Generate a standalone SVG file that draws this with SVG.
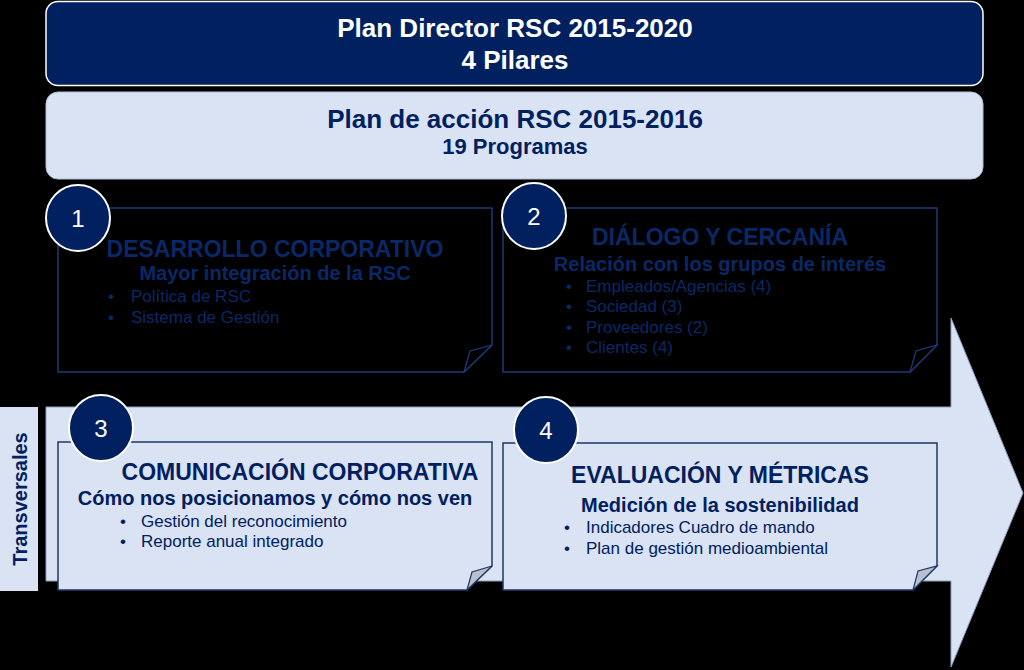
<svg xmlns="http://www.w3.org/2000/svg" width="1024" height="670" viewBox="0 0 1024 670">
<style>
text{font-family:"Liberation Sans",Arial,sans-serif}
.b{font-weight:bold}
.dk{fill:#0b2866}
.nv{fill:#002060}
.wh{fill:#ffffff}
.c{text-anchor:middle}
.t1{font-size:26px}
.st{font-size:23px;font-weight:bold}
.sub{font-size:20px;font-weight:bold}
.bl{font-size:17px}
.num{font-size:24px;fill:#ffffff;text-anchor:middle}
.boxd{fill:#000;stroke:#1f3a7a;stroke-width:1.5}
.boxl{fill:#dae3f3;stroke:#1f3864;stroke-width:1.5}
.flapd{fill:#000;stroke:#1f3a7a;stroke-width:1.2}
.flapl{fill:#b8c0cf;stroke:#1f3864;stroke-width:1.2}
.circ{fill:#002060;stroke:#ffffff;stroke-width:2}
</style>
<rect width="1024" height="670" fill="#000"/>
<g id="arrow">
<path d="M46,407 L951,407 L951,318 L1023,493 L951,667 L951,581 L46,581 Z" fill="#dae3f3" stroke="#8ea0bc" stroke-width="1"/>
</g>
<g id="transversales">
<rect x="0" y="407" width="38" height="184" fill="#dae3f3"/>
<text class="b nv c" font-size="20" x="27" y="499" transform="rotate(-90 27 499)">Transversales</text>
</g>
<g id="plan-director">
<rect x="46" y="1.5" width="937" height="84" rx="12" fill="#002060" stroke="#ffffff" stroke-width="1.5"/>
<text class="b wh c t1" x="515" y="37">Plan Director RSC 2015-2020</text>
<text class="b wh c t1" x="515" y="69">4 Pilares</text>
</g>
<g id="plan-accion">
<rect x="46" y="92" width="937" height="87" rx="12" fill="#dae3f3" stroke="#b0bdd4" stroke-width="1"/>
<text class="b nv c t1" x="515" y="128">Plan de acción RSC 2015-2016</text>
<text class="b nv c" font-size="22" x="515" y="154">19 Programas</text>
</g>
<g id="pilar1">
<path class="boxd" d="M58,208 H492 V345 L464,372 H58 Z"/>
<path class="flapd" d="M464,372 L470,351 L492,345 Z"/>
<text class="st dk c" x="275" y="257">DESARROLLO CORPORATIVO</text>
<text class="sub dk c" x="275" y="280">Mayor integración de la RSC</text>
<text class="bl dk" x="108" y="302">•</text><text class="bl dk" x="131" y="302">Política de RSC</text>
<text class="bl dk" x="108" y="323">•</text><text class="bl dk" x="131" y="323">Sistema de Gestión</text>
<ellipse class="circ" cx="78" cy="218" rx="32" ry="33"/>
<text class="num" x="78" y="227">1</text>
</g>
<g id="pilar2">
<path class="boxd" d="M503,208 H937 V345 L910,372 H503 Z"/>
<path class="flapd" d="M910,372 L916,351 L937,345 Z"/>
<text class="st dk c" x="720" y="245">DIÁLOGO Y CERCANÍA</text>
<text class="sub dk c" x="720" y="271">Relación con los grupos de interés</text>
<text class="bl dk" x="566" y="292">•</text><text class="bl dk" x="586" y="292">Empleados/Agencias (4)</text>
<text class="bl dk" x="566" y="312">•</text><text class="bl dk" x="586" y="312">Sociedad (3)</text>
<text class="bl dk" x="566" y="333">•</text><text class="bl dk" x="586" y="333">Proveedores (2)</text>
<text class="bl dk" x="566" y="353">•</text><text class="bl dk" x="586" y="353">Clientes (4)</text>
<ellipse class="circ" cx="534" cy="216" rx="32" ry="33"/>
<text class="num" x="534" y="225">2</text>
</g>
<g id="pilar3">
<path class="boxl" d="M58,442 H492 V566 L467,590 H58 Z"/>
<path class="flapl" d="M467,590 L472,572 L492,566 Z"/>
<text class="st nv c" x="300" y="480">COMUNICACIÓN CORPORATIVA</text>
<text class="sub nv c" x="275" y="505">Cómo nos posicionamos y cómo nos ven</text>
<text class="bl nv" x="120" y="527">•</text><text class="bl nv" x="141" y="527">Gestión del reconocimiento</text>
<text class="bl nv" x="120" y="547">•</text><text class="bl nv" x="141" y="547">Reporte anual integrado</text>
<ellipse class="circ" cx="101" cy="428" rx="32" ry="33"/>
<text class="num" x="101" y="437">3</text>
</g>
<g id="pilar4">
<path class="boxl" d="M503,443 H937 V566 L913,590 H503 Z"/>
<path class="flapl" d="M913,590 L918,571 L937,566 Z"/>
<text class="st nv c" x="720" y="483">EVALUACIÓN Y MÉTRICAS</text>
<text class="sub nv c" x="720" y="512">Medición de la sostenibilidad</text>
<text class="bl nv" x="564" y="533">•</text><text class="bl nv" x="586" y="533">Indicadores Cuadro de mando</text>
<text class="bl nv" x="564" y="554">•</text><text class="bl nv" x="586" y="554">Plan de gestión medioambiental</text>
<ellipse class="circ" cx="546" cy="430" rx="32" ry="33"/>
<text class="num" x="546" y="439">4</text>
</g>
</svg>
